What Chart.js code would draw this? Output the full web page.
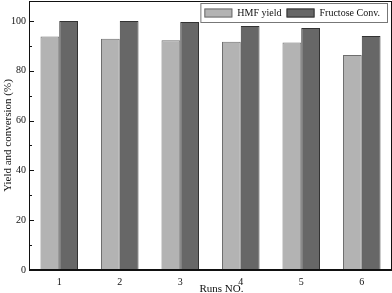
<!DOCTYPE html>
<html>
<head>
<meta charset="utf-8">
<script src="https://cdn.jsdelivr.net/npm/chart.js@4.4.0/dist/chart.umd.min.js"></script>
<style>
  html, body { margin: 0; padding: 0; background: #fff; }
  #wrap { width: 392px; height: 293px; }
</style>
</head>
<body>
<div id="wrap"><canvas id="chart" width="392" height="293"></canvas></div>
<script>
// Data
const runs = ['1', '2', '3', '4', '5', '6'];
const hmfYield = [93.7, 92.8, 92.2, 91.6, 91.3, 86.3];
const fructoseConv = [100, 100, 99.6, 98.0, 97.2, 93.9];
const yTicks = [0, 20, 40, 60, 80, 100];
const yMinorTicks = [10, 30, 50, 70, 90];
const xTitle = 'Runs NO.';

const serif = '"Liberation Serif", "DejaVu Serif", serif';

// Frame around the plot, inward y ticks, x title and the legend inside the plot
const framePlugin = {
    id: 'frame',
    afterDatasetsDraw(chart) {
        const ctx = chart.ctx;
        const a = chart.chartArea;
        const y = chart.scales.y;
        ctx.save();
        ctx.strokeStyle = '#111';
        ctx.lineWidth = 1;
        ctx.strokeRect(a.left + 0.5, a.top + 0.5, a.right - a.left - 1, a.bottom - a.top);
        // heavier bottom axis
        ctx.lineWidth = 2;
        ctx.beginPath();
        ctx.moveTo(a.left, a.bottom);
        ctx.lineTo(a.right, a.bottom);
        ctx.stroke();
        // inward ticks on the left axis
        ctx.lineWidth = 1;
        yTicks.concat(yMinorTicks).forEach(v => {
            const py = Math.round(y.getPixelForValue(v)) + 0.5;
            const len = yTicks.includes(v) ? 5 : 3;
            ctx.beginPath();
            ctx.moveTo(a.left, py);
            ctx.lineTo(a.left + len, py);
            ctx.stroke();
        });

        // x axis title, sits a little right of the plot centre in the original
        ctx.fillStyle = '#111';
        ctx.font = '11px ' + serif;
        ctx.textAlign = 'center';
        ctx.textBaseline = 'alphabetic';
        ctx.fillText(xTitle, (a.left + a.right) / 2 + 11, chart.height - 1);

        // legend, right aligned near the top of the plot
        ctx.textAlign = 'left';
        ctx.font = '10px ' + serif;
        ctx.textBaseline = 'middle';
        const sets = chart.data.datasets;
        const swW = 28, swH = 9, gap = 5, pad = 4;
        const widths = sets.map(d => ctx.measureText(d.label).width);
        let total = pad;
        widths.forEach((w, i) => { total += swW + gap + w + (i < sets.length - 1 ? gap : pad + 3); });
        const boxRight = a.right - 5;
        const boxLeft = boxRight - total;
        const boxTop = a.top + 2;
        const boxH = 19;
        ctx.fillStyle = '#fff';
        ctx.fillRect(boxLeft, boxTop, total, boxH);
        ctx.strokeStyle = '#777';
        ctx.strokeRect(boxLeft + 0.5, boxTop + 0.5, total, boxH);
        let x = boxLeft + pad;
        const cy = boxTop + boxH / 2 + 0.5;
        sets.forEach((d, i) => {
            ctx.fillStyle = d.backgroundColor;
            ctx.fillRect(x, cy - swH / 2, swW, swH);
            ctx.strokeStyle = d.borderColor;
            ctx.strokeRect(x + 0.5, cy - swH / 2 + 0.5, swW - 1, swH - 1);
            x += swW + gap;
            ctx.fillStyle = '#111';
            ctx.fillText(d.label, x, cy);
            x += widths[i] + gap;
        });
        ctx.restore();
    }
};

new Chart(document.getElementById('chart'), {
    type: 'bar',
    data: {
        labels: runs,
        datasets: [
            {
                label: 'HMF yield',
                data: hmfYield,
                backgroundColor: '#b3b3b3',
                borderColor: '#6e6e6e',
                borderWidth: 1,
                categoryPercentage: 0.62,
                barPercentage: 1.0
            },
            {
                label: 'Fructose Conv.',
                data: fructoseConv,
                backgroundColor: '#676767',
                borderColor: '#333333',
                borderWidth: 1,
                categoryPercentage: 0.62,
                barPercentage: 1.0
            }
        ]
    },
    options: {
        responsive: false,
        animation: false,
        layout: { padding: { top: 1, right: 0, left: 0, bottom: 0 } },
        plugins: {
            legend: { display: false },
            tooltip: { enabled: false }
        },
        scales: {
            x: {
                grid: { display: false, drawTicks: false },
                border: { display: false },
                ticks: {
                    color: '#111',
                    font: { family: serif, size: 10 },
                    padding: 6
                },
                afterFit(scale) { scale.height = 23; }
            },
            y: {
                min: 0,
                max: 108,
                grid: { display: false, drawTicks: false },
                border: { display: false },
                afterBuildTicks(scale) { scale.ticks = yTicks.map(v => ({ value: v })); },
                ticks: {
                    color: '#111',
                    font: { family: serif, size: 10 },
                    padding: 3
                },
                title: {
                    display: true,
                    text: 'Yield and conversion (%)',
                    color: '#111',
                    font: { family: serif, size: 11 },
                    padding: { top: 2, bottom: 0 }
                },
                afterFit(scale) {
                    scale.width = 29;
                    scale.paddingTop = 0;
                    scale.paddingBottom = 0;
                }
            }
        }
    },
    plugins: [framePlugin]
});
</script>
</body>
</html>
